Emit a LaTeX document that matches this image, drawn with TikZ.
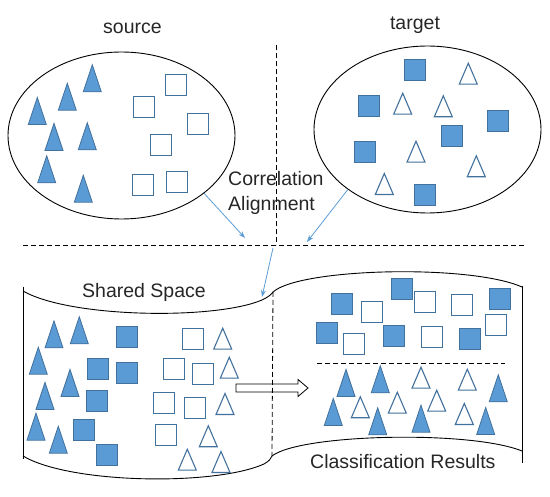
\documentclass[tikz,border=0pt]{standalone}
\usepackage{fontspec}
\setmainfont{Liberation Sans}
\usetikzlibrary{shapes.geometric,arrows.meta}
\definecolor{bfill}{HTML}{5B9BD5}
\definecolor{bline}{HTML}{41719C}
\definecolor{barrow}{HTML}{5B9BD5}
\definecolor{txt}{HTML}{262626}
\begin{document}
\begin{tikzpicture}[x=1pt,y=-1pt,
  lbl/.style={font=\fontsize{19.5}{23}\selectfont, text=txt, inner sep=0pt},
  cloud/.style={draw=black, line width=0.9pt, ellipse, inner sep=0pt, minimum width=227pt, minimum height=167pt},
  edge/.style={draw=black, line width=0.9pt},
  dline/.style={draw=black, line width=0.8pt, dash pattern=on 5pt off 3pt},
  blink/.style={draw=barrow, line width=0.8pt, -{Stealth[length=7pt,width=5pt]}},
  pics/ftri/.style={code={\draw[bline, fill=bfill, line width=0.8pt, line join=miter] (-9,13.5) -- (0,-13.5) -- (9,13.5) -- cycle;}},
  pics/htri/.style={code={\draw[bline, fill=white, line width=1.1pt, line join=miter] (-9,10.5) -- (0,-10.5) -- (9,10.5) -- cycle;}},
  pics/fsq/.style={code={\draw[bline, fill=bfill, line width=0.8pt] (-10.5,-10.5) rectangle (10.5,10.5);}},
  pics/hsq/.style={code={\draw[bline, fill=white, line width=1.1pt] (-10.5,-10.5) rectangle (10.5,10.5);}}
]
\useasboundingbox (0,0) rectangle (550,497);

% ellipses
\node[cloud] (src) at (121.5,135.5) {};
\node[cloud] (tgt) at (427.5,129.5) {};
\node[lbl, anchor=base] (srclbl) at (132.5,33.5) {source};
\node[lbl, anchor=base] (tgtlbl) at (415,29.3) {target};

% source contents
\foreach \x/\y in {92.3/78.3, 67.3/96.7, 37.3/111, 54/137, 87.3/136.3, 46.7/169.3, 83.3/188.7}
  \pic at (\x,\y) {ftri};
\foreach \x/\y in {176/85, 144.3/107.3, 198.3/124.3, 161.3/145, 143.3/184.7, 176.7/181.7}
  \pic at (\x,\y) {hsq};

% target contents
\foreach \x/\y in {415/70.3, 369/106, 497.7/121.3, 452.3/135.7, 365/151.7, 425.3/195}
  \pic at (\x,\y) {fsq};
\foreach \x/\y in {468.3/73.7, 402.7/103.7, 443.3/106.3, 416/151.7, 476.3/166.3, 384.3/184}
  \pic at (\x,\y) {htri};

% dashed separators
\coordinate (vtop) at (276,45);
\coordinate (vbot) at (276,245);
\coordinate (hl) at (23,245);
\coordinate (hr) at (525,245);
\draw[dline] (vtop) -- (vbot);
\draw[dline] (hl) -- (hr);

% correlation alignment
\node[lbl, anchor=base west] (ca1) at (228,186) {Correlation};
\node[lbl, anchor=base west] (ca2) at (228,210.5) {Alignment};
\coordinate (a1) at (245,238);
\coordinate (a2) at (307,242);
\coordinate (a3s) at (273,248);
\coordinate (a3e) at (262,297);
\draw[blink] (src.-35.5) -- (a1);
\draw[blink] (tgt.-143) -- (a2);
\draw[blink] (a3s) -- (a3e);

% cylinder-like shared space
\coordinate (jt) at (273,292);
\coordinate (jb) at (272,456);
\draw[edge] (23,287) -- (23,459);
\draw[edge] (23,291) .. controls (70,318) and (215,320) .. (262,300) .. controls (268,297) and (271,295) .. (jt);
\draw[edge] (jt) .. controls (300,268) and (470,264) .. (522,287);
\draw[edge] (522,286) -- (522,463);
\draw[edge] (23,456) .. controls (70,484) and (215,486) .. (264,464) .. controls (269,461) and (271,459) .. (jb);
\draw[edge] (jb) .. controls (300,434) and (470,430) .. (522,451);
\draw[dline] (jt) -- (jb);

\node[lbl, anchor=base west] (ss) at (82,298) {Shared Space};
\node[lbl, anchor=base west] (cr) at (310,469) {Classification Results};

% shared space contents
\foreach \x/\y in {54/334.3, 79.3/330.3, 38.3/360.7, 70/383, 45/396, 36/426.7, 58.3/439.7}
  \pic at (\x,\y) {ftri};
\foreach \x/\y in {127.3/336.7, 98.3/368.7, 127.3/373.3, 96.7/401, 84/430.3, 106.7/455}
  \pic at (\x,\y) {fsq};
\foreach \x/\y in {193.3/339.3, 174/368.7, 202.7/374, 164/402.7, 195.3/408.3, 165.7/435.3}
  \pic at (\x,\y) {hsq};
\foreach \x/\y in {222.7/338.7, 229.3/367.7, 225/404, 208.3/436.3, 187.3/459.7, 221/462}
  \pic at (\x,\y) {htri};

% hollow arrow
\draw[black, line width=0.8pt, line join=miter] (236,384) -- (298,384) -- (298,379.5) -- (308,388) -- (298,396.5) -- (298,392) -- (236,392) -- cycle;

% classification results
\foreach \x/\y in {401.7/289.3, 341.7/304, 500/298.7, 326.7/333.3, 394/335.7, 470/339.3}
  \pic at (\x,\y) {fsq};
\foreach \x/\y in {371.7/311.7, 425/302.3, 461.7/305, 496.3/325, 353.7/344.3, 431.7/336.7}
  \pic at (\x,\y) {hsq};
\coordinate (rl) at (317,363);
\coordinate (rr) at (505,363);
\draw[dline] (rl) -- (rr);
\foreach \x/\y in {346/383, 380.3/379.3, 498.3/388.3, 333.3/412, 377.7/421.3, 421/418.7, 485.7/421}
  \pic at (\x,\y) {ftri};
\foreach \x/\y in {421/377.7, 467.3/379.7, 360.3/407.3, 397.3/402.7, 436.7/400.7, 464.3/414}
  \pic at (\x,\y) {htri};
\end{tikzpicture}
\end{document}
